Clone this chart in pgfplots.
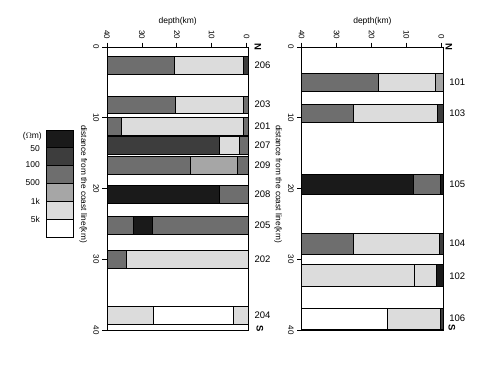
\documentclass[border=0pt]{standalone}
\usepackage{pgfplots}
\pgfplotsset{compat=1.18}
\usepackage{fontspec}
\setmainfont{Liberation Sans}
\definecolor{c1}{HTML}{1A1A1A}
\definecolor{c2}{HTML}{3D3D3D}
\definecolor{c3}{HTML}{6E6E6E}
\definecolor{c4}{HTML}{A6A6A6}
\definecolor{c5}{HTML}{DCDCDC}
\definecolor{c6}{HTML}{FFFFFF}
% segment: depth from, depth to, distance from, distance to, colour
\newcommand{\seg}[5]{\addplot[fill=#5, draw=black, line width=0.9pt] coordinates {(#1,#3) (#2,#3) (#2,#4) (#1,#4)} -- cycle;}
\newcommand{\stn}[2]{\node[anchor=west, inner sep=0pt, xshift=6pt, font=\fontsize{9.5}{10}\selectfont] at (axis cs:-0.5,#1) {#2};}
\pgfplotsset{panel/.style={
  scale only axis, width=141.4pt, height=283pt,
  xmin=-0.5, xmax=40, ymin=0, ymax=40,
  x dir=reverse, y dir=reverse,
  xtick={0,10,20,30,40}, ytick={0,10,20,30,40},
  xtick pos=upper, xticklabel pos=upper,
  ytick pos=left, yticklabel pos=left,
  tick align=outside, major tick length=4.5pt,
  tick style={black, line width=0.8pt},
  axis line style={line width=0.9pt},
  /pgf/number format/assume math mode=true,
  xticklabel style={rotate=-90, anchor=east, font=\fontsize{8}{9}\selectfont},
  yticklabel style={rotate=-90, anchor=north, font=\fontsize{8}{9}\selectfont},
  xlabel={depth(km)},
  ylabel={distance from the coast line(km)},
  every axis x label/.style={at={(rel axis cs:0.5,1.092)}, anchor=center, font=\fontsize{8.5}{9}\selectfont},
  every axis y label/.style={at={(rel axis cs:-0.168,0.516)}, rotate=-90, anchor=center, font=\fontsize{8.3}{9}\selectfont},
  clip=false,
}}
\begin{document}
\begin{tikzpicture}
\useasboundingbox (0pt,0pt) rectangle (478pt,380pt);
% left panel
\begin{axis}[panel, at={(107pt,50pt)}, anchor=south west]
\seg{40}{20.8}{1.37}{3.82}{c3}
\seg{20.8}{0.8}{1.37}{3.82}{c5}
\seg{0.8}{-0.5}{1.37}{3.82}{c2}
\seg{40}{20.5}{6.93}{9.38}{c3}
\seg{20.5}{1.0}{6.93}{9.38}{c5}
\seg{1.0}{-0.5}{6.93}{9.38}{c3}
\seg{40}{36}{9.9}{12.45}{c3}
\seg{36}{0.8}{9.9}{12.45}{c5}
\seg{0.8}{-0.5}{9.9}{12.45}{c3}
\seg{40}{7.9}{12.6}{15.2}{c2}
\seg{7.9}{2.1}{12.6}{15.2}{c5}
\seg{2.1}{-0.5}{12.6}{15.2}{c3}
\seg{40}{16}{15.4}{18.0}{c3}
\seg{16}{2.6}{15.4}{18.0}{c4}
\seg{2.6}{-0.5}{15.4}{18.0}{c3}
\seg{40}{7.65}{19.6}{22.1}{c1}
\seg{7.65}{-0.5}{19.6}{22.1}{c3}
\seg{40}{32.5}{23.9}{26.45}{c3}
\seg{32.5}{26.9}{23.9}{26.45}{c1}
\seg{26.9}{-0.5}{23.9}{26.45}{c3}
\seg{40}{34.4}{28.7}{31.3}{c3}
\seg{34.4}{-0.5}{28.7}{31.3}{c5}
\seg{40}{26.8}{36.6}{39.2}{c5}
\seg{26.8}{3.8}{36.6}{39.2}{c6}
\seg{3.8}{-0.5}{36.6}{39.2}{c5}
\stn{2.6}{206}
\stn{8.15}{203}
\stn{11.2}{201}
\stn{13.9}{207}
\stn{16.7}{209}
\stn{20.85}{208}
\stn{25.2}{205}
\stn{30.0}{202}
\stn{37.9}{204}
\end{axis}
% right panel
\begin{axis}[panel, at={(301.7pt,50pt)}, anchor=south west]
\seg{40}{17.9}{3.7}{6.3}{c3}
\seg{17.9}{1.8}{3.7}{6.3}{c5}
\seg{1.8}{-0.5}{3.7}{6.3}{c4}
\seg{40}{25.3}{8.06}{10.6}{c3}
\seg{25.3}{1.0}{8.06}{10.6}{c5}
\seg{1.0}{-0.5}{8.06}{10.6}{c2}
\seg{40}{8.1}{18.0}{20.8}{c1}
\seg{8.1}{0.3}{18.0}{20.8}{c3}
\seg{0.3}{-0.5}{18.0}{20.8}{c1}
\seg{40}{25.3}{26.35}{29.3}{c3}
\seg{25.3}{0.5}{26.35}{29.3}{c5}
\seg{0.5}{-0.5}{26.35}{29.3}{c2}
\seg{40}{7.8}{30.8}{33.9}{c5}
\seg{7.8}{1.3}{30.8}{33.9}{c5}
\seg{1.3}{-0.5}{30.8}{33.9}{c1}
\seg{40}{15.5}{36.9}{39.9}{c6}
\seg{15.5}{0.3}{36.9}{39.9}{c5}
\seg{0.3}{-0.5}{36.9}{39.9}{c2}
\stn{5.0}{101}
\stn{9.3}{103}
\stn{19.4}{105}
\stn{27.8}{104}
\stn{32.4}{102}
\stn{38.4}{106}
\end{axis}
% N / S markers
\node[rotate=-90, font=\fontsize{9.5}{10}\selectfont\bfseries] at (258pt,333pt) {N};
\node[rotate=-90, font=\fontsize{9.5}{10}\selectfont\bfseries] at (260pt,51pt) {S};
\node[rotate=-90, font=\fontsize{9.5}{10}\selectfont\bfseries] at (449pt,333pt) {N};
\node[rotate=-90, font=\fontsize{9.5}{10}\selectfont\bfseries] at (452pt,52pt) {S};
% resistivity key
\foreach \c [count=\i] in {c1,c2,c3,c4,c5,c6} {
  \draw[fill=\c, line width=0.8pt] (46pt,{250pt-(\i-1)*17.83pt}) rectangle (73pt,{250pt-\i*17.83pt});
}
\begin{scope}[font=\fontsize{8.5}{9}\selectfont]
\node[anchor=east, inner sep=0pt] at (42pt,243.3pt) {($\Omega$m)};
\node[anchor=east, inner sep=0pt] at (40pt,231.7pt) {50};
\node[anchor=east, inner sep=0pt] at (40pt,215pt) {100};
\node[anchor=east, inner sep=0pt] at (40pt,197.3pt) {500};
\node[anchor=east, inner sep=0pt] at (40pt,178.3pt) {1k};
\node[anchor=east, inner sep=0pt] at (40pt,160.7pt) {5k};
\end{scope}
\end{tikzpicture}
\end{document}
